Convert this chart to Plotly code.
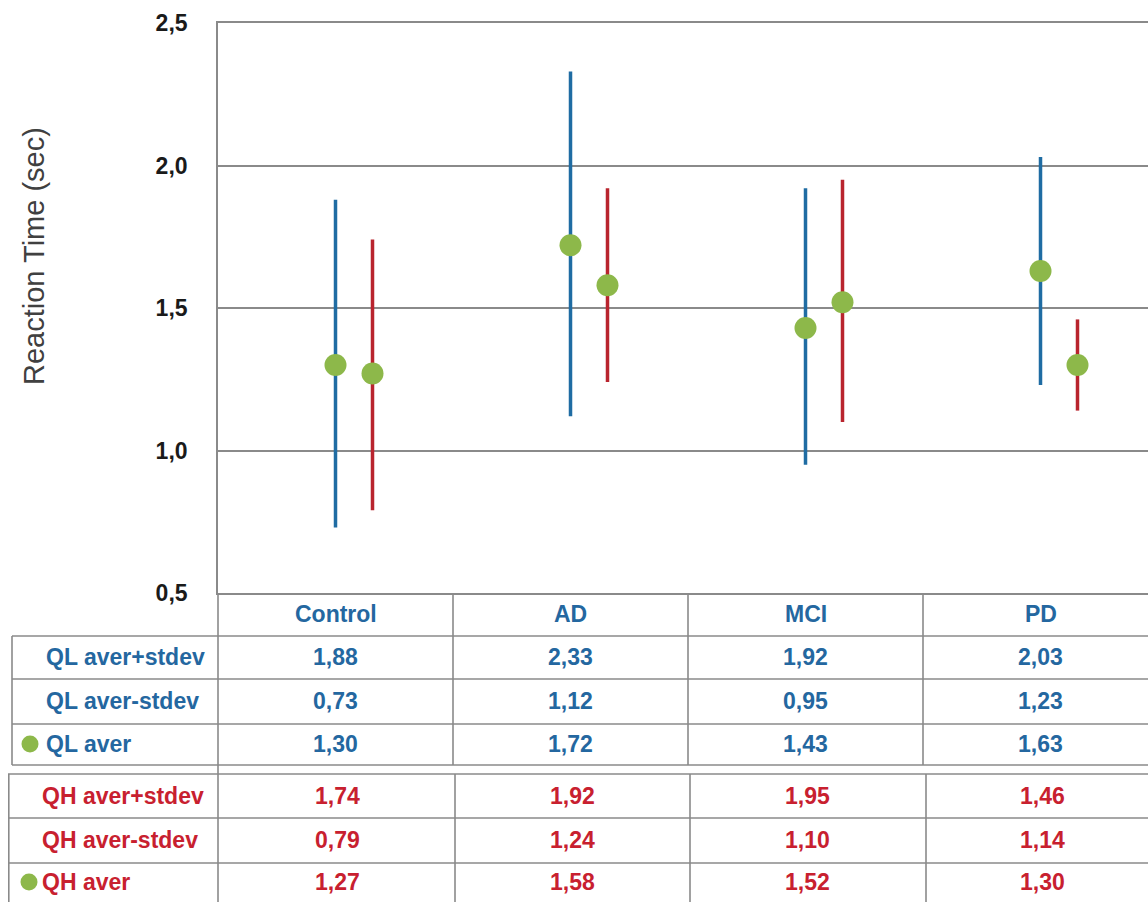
import plotly.graph_objects as go
import numpy as np

# ---------------- data ----------------
categories = ["Control", "AD", "MCI", "PD"]
ql_plus = [1.88, 2.33, 1.92, 2.03]
ql_minus = [0.73, 1.12, 0.95, 1.23]
ql_aver = [1.30, 1.72, 1.43, 1.63]
qh_plus = [1.74, 1.92, 1.95, 1.46]
qh_minus = [0.79, 1.24, 1.10, 1.14]
qh_aver = [1.27, 1.58, 1.52, 1.30]

ql_labels = ["QL aver+stdev", "QL aver-stdev", "QL aver"]
qh_labels = ["QH aver+stdev", "QH aver-stdev", "QH aver"]
y_ticks = [0.5, 1.0, 1.5, 2.0, 2.5]

# ---------------- style ----------------
BLUE_LINE = "#1f6ca3"
RED_LINE = "#b9242e"
GREEN = "#8db84a"
BLUE_TXT = "#2467a0"
RED_TXT = "#c8202f"
GRID = "#8a8a8a"
FONT = "Liberation Sans, Arial, sans-serif"

PAGE_W, PAGE_H = 1148, 902
FIG_W, FIG_H = PAGE_W, PAGE_H
# plot area in page pixels: left 218, top 23, bottom 593
L, T = 218, 23
PLOT_BOTTOM = 593
R = 0
B = FIG_H - PLOT_BOTTOM
PW, PH = FIG_W - L - R, PLOT_BOTTOM - T
CAT_W = 235.0
red_off = 37.0 / CAT_W
xr = [-0.5, -0.5 + PW / CAT_W]


def pxx(X):  # page x -> paper
    return (X - L) / PW


def pxy(Y):  # page y -> paper
    return (T + PH - Y) / PH


def fmt(v):
    return f"{v:.2f}".replace(".", ",")


x_idx = np.arange(len(categories), dtype=float)

fig = go.Figure()

for xs, plus, minus, aver, col in [
    (x_idx, ql_plus, ql_minus, ql_aver, BLUE_LINE),
    (x_idx + red_off, qh_plus, qh_minus, qh_aver, RED_LINE),
]:
    plus = np.array(plus)
    minus = np.array(minus)
    aver = np.array(aver)
    fig.add_trace(go.Scatter(
        x=xs, y=aver, mode="markers",
        marker=dict(color=GREEN, size=22, line=dict(width=0)),
        error_y=dict(type="data", symmetric=False,
                     array=plus - aver, arrayminus=aver - minus,
                     width=0, thickness=3.5, color=col),
        showlegend=False, hoverinfo="skip",
    ))

shapes = []
line = dict(color=GRID, width=1.6)


def hline(Y, X0, X1=PAGE_W):
    shapes.append(dict(type="line", xref="paper", yref="paper",
                       x0=pxx(X0), x1=pxx(X1), y0=pxy(Y), y1=pxy(Y), line=line))


def vline(X, Y0, Y1):
    shapes.append(dict(type="line", xref="paper", yref="paper",
                       x0=pxx(X), x1=pxx(X), y0=pxy(Y0), y1=pxy(Y1), line=line))


# table grid (page coordinates)
g1_rows = [636, 679, 724, 765]
g2_rows = [774, 818, 863]
for Y in g1_rows:
    hline(Y, 12)
for Y in g2_rows:
    hline(Y, 8)
vline(218, 593, PAGE_H)
vline(12, 636, 765)
vline(8.8, 774, PAGE_H)
for X in [453, 688, 923]:
    vline(X, 593, 765)
for X in [455, 690, 926]:
    vline(X, 774, PAGE_H)

# legend keys in table
for cx, cy in [(30, 744), (29, 882)]:
    r = 8.5
    shapes.append(dict(type="circle", xref="paper", yref="paper",
                       x0=pxx(cx - r), x1=pxx(cx + r), y0=pxy(cy + r), y1=pxy(cy - r),
                       fillcolor=GREEN, line=dict(width=0)))

annotations = []
tfont = dict(family=FONT, size=23, weight="bold")

# header
for i, c in enumerate(categories):
    annotations.append(dict(x=i, y=pxy(614), xref="x", yref="paper", text=c,
                            showarrow=False, font=dict(tfont, color=BLUE_TXT),
                            xanchor="center", yanchor="middle"))

ql_rows_y = [657, 701, 744]
qh_rows_y = [796, 840, 882]
for lab, vals, Y in zip(ql_labels, [ql_plus, ql_minus, ql_aver], ql_rows_y):
    annotations.append(dict(x=pxx(44), y=pxy(Y), xref="paper", yref="paper", text=lab,
                            showarrow=False, font=dict(tfont, color=BLUE_TXT),
                            xanchor="left", yanchor="middle"))
    for i, v in enumerate(vals):
        annotations.append(dict(x=i, y=pxy(Y), xref="x", yref="paper", text=fmt(v),
                                showarrow=False, font=dict(tfont, color=BLUE_TXT),
                                xanchor="center", yanchor="middle"))
for lab, vals, Y in zip(qh_labels, [qh_plus, qh_minus, qh_aver], qh_rows_y):
    annotations.append(dict(x=pxx(40), y=pxy(Y), xref="paper", yref="paper", text=lab,
                            showarrow=False, font=dict(tfont, color=RED_TXT),
                            xanchor="left", yanchor="middle"))
    for i, v in enumerate(vals):
        annotations.append(dict(x=i + 0.01, y=pxy(Y), xref="x", yref="paper", text=fmt(v),
                                showarrow=False, font=dict(tfont, color=RED_TXT),
                                xanchor="center", yanchor="middle"))

# y axis title
annotations.append(dict(x=pxx(34), y=pxy(256), xref="paper", yref="paper",
                        text="Reaction Time (sec)", textangle=-90, showarrow=False,
                        font=dict(family=FONT, size=29, color="#404040"),
                        xanchor="center", yanchor="middle"))

fig.update_layout(
    width=FIG_W, height=FIG_H,
    margin=dict(l=L, r=R, t=T, b=B, pad=0),
    paper_bgcolor="white", plot_bgcolor="white",
    separators=", ",
    shapes=shapes, annotations=annotations,
    showlegend=False,
    xaxis=dict(range=xr, showgrid=False, zeroline=False, showticklabels=False,
               ticks="", showline=True, mirror=True, linecolor=GRID, linewidth=1.6),
    yaxis=dict(range=[0.5, 2.5], tickvals=y_ticks, tickformat=".1f",
               showgrid=True, gridcolor=GRID, gridwidth=1.6, zeroline=False,
               showline=True, linecolor=GRID, linewidth=1.6, ticks="",
               ticklabelstandoff=24,
               tickfont=dict(family=FONT, size=23, color="#1a1a1a", weight="bold")),
)

fig.write_html(
    "out.html",
    config={"displayModeBar": False},
    post_script="document.body.style.margin='0';document.body.style.overflow='hidden';",
)
